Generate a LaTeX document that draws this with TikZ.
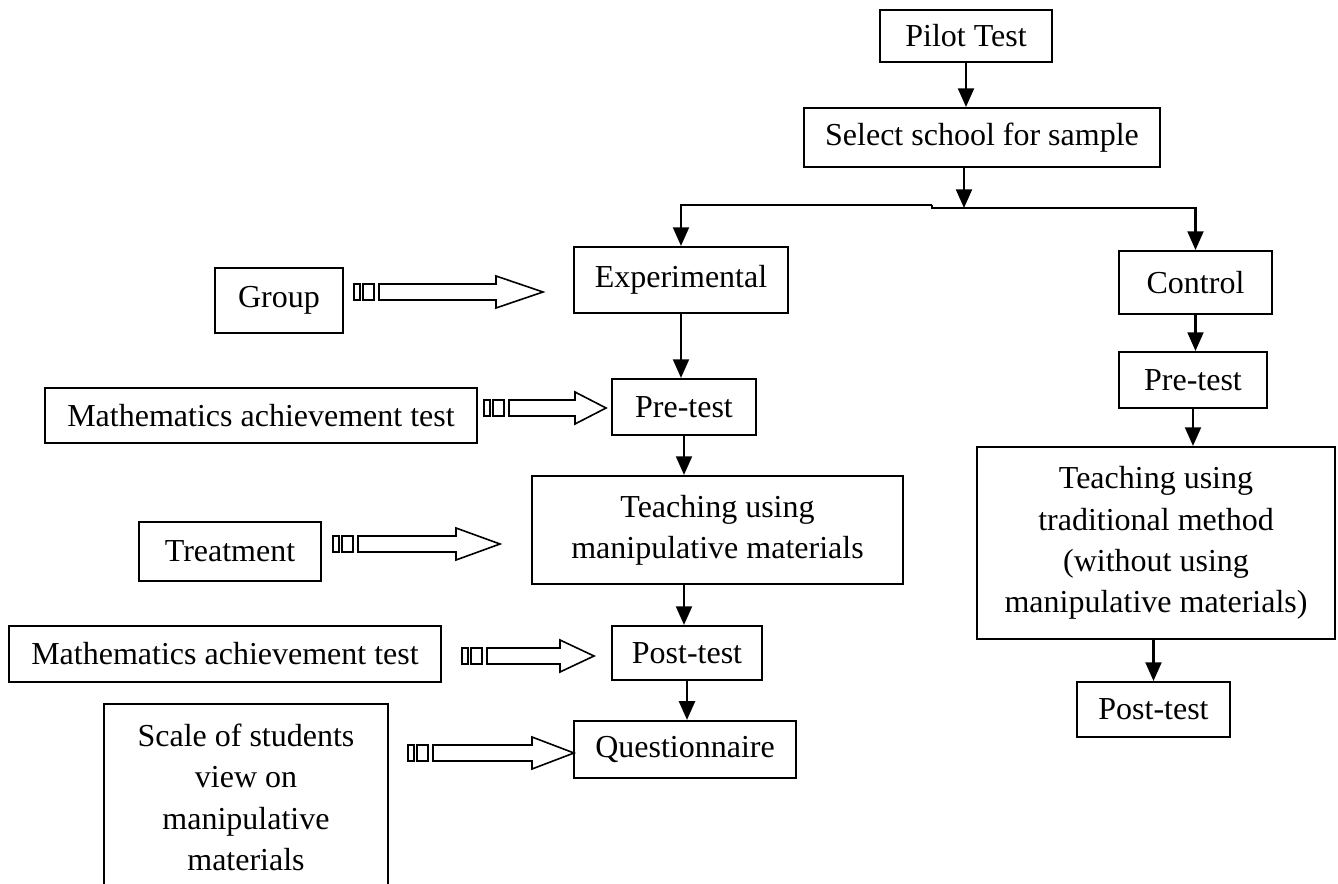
\documentclass[tikz,border=0pt]{standalone}
\usepackage{fontspec}
\setmainfont{Liberation Serif}
\usetikzlibrary{calc,arrows.meta}

\newcommand{\stripedarrow}[3]{%
  \draw[blockarrow] ($(#1)+(0,-8)$) rectangle ($(#1)+(6,8)$);
  \draw[blockarrow] ($(#1)+(9,-8)$) rectangle ($(#1)+(20,8)$);
  \draw[blockarrow] ($(#1)+(25,-8)$) -- ($(#2)+(-#3,-8)$) -- ($(#2)+(-#3,-16)$) -- (#2)
    -- ($(#2)+(-#3,16)$) -- ($(#2)+(-#3,8)$) -- ($(#1)+(25,8)$) -- cycle;}

\begin{document}
\begin{tikzpicture}[x=0.375pt,y=-0.375pt,line join=miter,
  box/.style={draw,line width=0.8pt,inner sep=0pt,align=center,font=\fontsize{12}{15.5}\selectfont},
  arr/.style={line width=0.8pt,-{Triangle[length=7pt,width=6pt]}},
  blockarrow/.style={line width=0.6pt}]
\useasboundingbox (0,0) rectangle (1338,884);

\node[box,minimum width=64.5pt,minimum height=19.5pt] (pilot) at (966,36) {Pilot Test};
\node[box,minimum width=133.5pt,minimum height=22.1pt] (select) at (982,137.5) {Select school for sample};
\node[box,minimum width=80.25pt,minimum height=24.75pt] (exper) at (681,280) {Experimental};
\node[box,minimum width=57.4pt,minimum height=23.6pt] (control) at (1195.5,282.5) {Control};
\node[box,minimum width=48pt,minimum height=24.4pt] (group) at (279,300.5) {Group};
\node[box,minimum width=54pt,minimum height=21pt] (preE) at (684,407) {Pre-test};
\node[box,minimum width=162pt,minimum height=20.6pt] (mathA) at (261,415.5) {Mathematics achievement test};
\node[box,minimum width=55.5pt,minimum height=21pt] (preC) at (1193,380) {Pre-test};
\node[box,minimum width=139.1pt,minimum height=40.5pt] (teachE) at (717.5,530) {Teaching using\\manipulative materials};
\node[box,minimum width=68.25pt,minimum height=22.1pt] (treat) at (230,551.5) {Treatment};
\node[box,minimum width=134.25pt,minimum height=72pt] (teachC) at (1156,543) {Teaching using\\traditional method\\(without using\\manipulative materials)};
\node[box,minimum width=56.25pt,minimum height=20.25pt] (postE) at (687,653) {Post-test};
\node[box,minimum width=162pt,minimum height=21pt] (mathB) at (225,654) {Mathematics achievement test};
\node[box,minimum width=57.4pt,minimum height=20.6pt] (postC) at (1153.5,709.5) {Post-test};
\node[box,minimum width=83.25pt,minimum height=21.4pt] (quest) at (685,749.5) {Questionnaire};
\node[box,minimum width=106.5pt,minimum height=70.1pt] (scale) at (246,797.5) {Scale of students\\view on\\manipulative\\materials};

\coordinate (split) at (964,208);
\coordinate (jogL) at (932,205);
\coordinate (jogR) at (932,208);

\draw[arr] (pilot.south) -- (pilot.south |- select.north);
\draw[arr] (select.south -| split) -- (split);
\draw[arr] (jogL) -- (exper.north |- jogL) -- (exper.north);
\draw[arr] (jogL) -- (jogR) -- (control.north |- jogR) -- (control.north);
\draw[arr] (exper.south) -- (exper.south |- preE.north);
\draw[arr] (preE.south) -- (preE.south |- teachE.north);
\draw[arr] (teachE.south -| preE.south) -- (preE.south |- postE.north);
\draw[arr] (postE.south) -- (postE.south |- quest.north);
\draw[arr] (control.south) -- (control.south |- preC.north);
\draw[arr] (preC.south) -- (preC.south |- teachC.north);
\draw[arr] (teachC.south -| postC.north) -- (postC.north);

\coordinate (gA) at (354,292);  \coordinate (gB) at (543,292);
\coordinate (mA) at (484,408);  \coordinate (mB) at (606,408);
\coordinate (tA) at (333,544);  \coordinate (tB) at (500,544);
\coordinate (nA) at (462,656);  \coordinate (nB) at (594,656);
\coordinate (sA) at (408,753);  \coordinate (sB) at (574,753);
\stripedarrow{gA}{gB}{47}
\stripedarrow{mA}{mB}{31}
\stripedarrow{tA}{tB}{44}
\stripedarrow{nA}{nB}{34}
\stripedarrow{sA}{sB}{42}
\end{tikzpicture}
\end{document}
